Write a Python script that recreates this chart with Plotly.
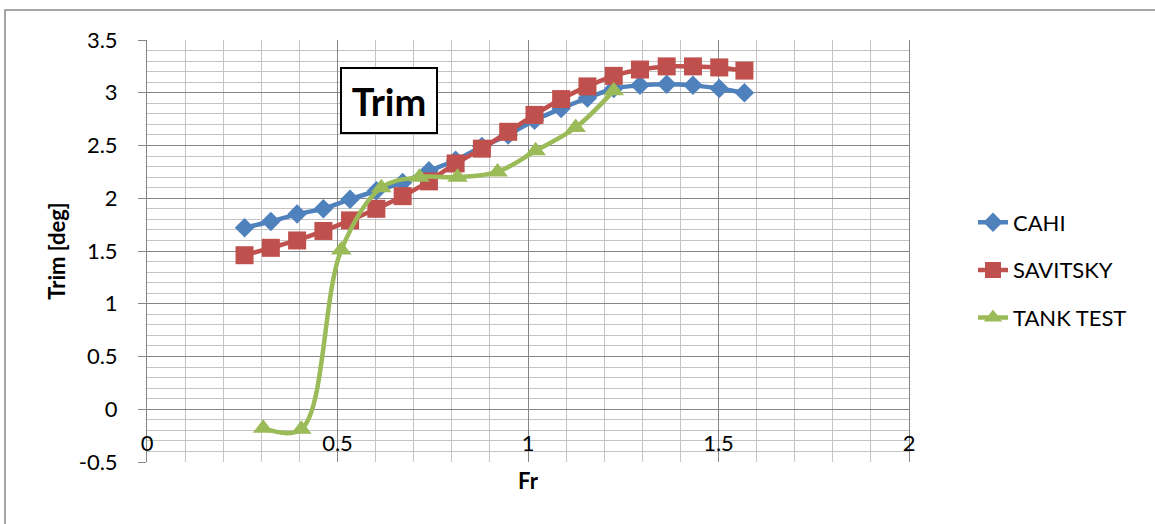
import plotly.graph_objects as go

# Froude numbers
fr_cahi = [0.256, 0.325, 0.394, 0.463, 0.533, 0.602, 0.671, 0.740, 0.810, 0.879,
           0.948, 1.017, 1.087, 1.156, 1.225, 1.294, 1.364, 1.433, 1.502, 1.568]
trim_cahi = [1.72, 1.78, 1.85, 1.90, 1.99, 2.07, 2.15, 2.26, 2.36, 2.49,
             2.60, 2.74, 2.85, 2.95, 3.04, 3.07, 3.08, 3.07, 3.04, 3.00]

fr_sav = fr_cahi
trim_sav = [1.46, 1.53, 1.60, 1.69, 1.79, 1.90, 2.02, 2.16, 2.33, 2.47,
            2.63, 2.79, 2.94, 3.06, 3.16, 3.22, 3.25, 3.25, 3.24, 3.21]

fr_tank = [0.305, 0.405, 0.510, 0.615, 0.715, 0.815, 0.920, 1.020, 1.125, 1.225]
trim_tank = [-0.18, -0.19, 1.51, 2.10, 2.20, 2.20, 2.25, 2.45, 2.67, 3.02]

x_ticks = [0, 0.5, 1, 1.5, 2]
x_tick_labels = ["0", "0.5", "1", "1.5", "2"]
y_ticks = [-0.5, 0, 0.5, 1, 1.5, 2, 2.5, 3, 3.5]
y_tick_labels = ["-0.5", "0", "0.5", "1", "1.5", "2", "2.5", "3", "3.5"]

BLUE = "#4F81BD"
RED = "#C0504D"
GREEN = "#9BBB59"
FONT = "Lato"

fig = go.Figure()
fig.add_trace(go.Scatter(x=fr_cahi, y=trim_cahi, name="CAHI", mode="lines+markers",
                         line=dict(color=BLUE, width=4.5, shape="spline", smoothing=0.6),
                         marker=dict(symbol="diamond", size=15, color=BLUE),
                         legendgroup="a"))
fig.add_trace(go.Scatter(x=fr_sav, y=trim_sav, name="SAVITSKY", mode="lines+markers",
                         line=dict(color=RED, width=4.5, shape="spline", smoothing=0.6),
                         marker=dict(symbol="square", size=18, color=RED),
                         legendgroup="b"))
fig.add_trace(go.Scatter(x=fr_tank, y=trim_tank, name="TANK TEST", mode="lines+markers",
                         line=dict(color=GREEN, width=4.5, shape="spline", smoothing=1),
                         marker=dict(symbol="triangle-up", size=18, color=GREEN),
                         legendgroup="c"))

L, R, T, B = 147, 246, 40, 62
W, H = 1155, 524
pw = W - L - R
ph = H - T - B

fig.update_layout(
    width=W, height=H,
    margin=dict(l=L, r=R, t=T, b=B),
    paper_bgcolor="white", plot_bgcolor="white",
    font=dict(family=FONT, size=22, color="black"),
    showlegend=True,
    legend=dict(x=(973 - L) / pw, y=(H - B - 270) / ph, xanchor="left", yanchor="middle",
                font=dict(family=FONT, size=22, color="black"),
                tracegroupgap=16, bgcolor="rgba(0,0,0,0)"),
    xaxis=dict(range=[0, 2], tickvals=x_ticks, ticktext=x_tick_labels,
               showgrid=True, gridcolor="#868686", gridwidth=1,
               minor=dict(dtick=0.1, showgrid=True, gridcolor="#C4C4C4", gridwidth=1),
               zeroline=False, showline=False, ticks="",
               anchor="free", position=(H - B - 428) / ph,
               title=dict(text="<b>Fr</b>", font=dict(family=FONT, size=22), standoff=18),
               tickfont=dict(family=FONT, size=22)),
    xaxis2=dict(range=[0, 2], overlaying="x", showgrid=False, showticklabels=False,
                zeroline=False, showline=True, linecolor="#868686", mirror=True, ticks=""),
    yaxis=dict(range=[-0.5, 3.5], tickvals=y_ticks, ticktext=y_tick_labels,
               showgrid=True, gridcolor="#868686", gridwidth=1,
               minor=dict(dtick=0.1, showgrid=True, gridcolor="#C4C4C4", gridwidth=1),
               zeroline=False, showline=True, linecolor="#868686", mirror=True,
               ticks="outside", ticklen=8, tickcolor="#868686", ticklabelstandoff=16,
               title=dict(text="<b>Trim [deg]</b>", font=dict(family=FONT, size=22), standoff=7),
               tickfont=dict(family=FONT, size=22)),
)

# title box
fig.add_annotation(text="<b>Trim</b>", xref="paper", yref="paper",
                   x=(389 - L) / pw, y=(H - B - 100) / ph, showarrow=False,
                   xanchor="center", yanchor="middle",
                   font=dict(family=FONT, size=38, color="black"),
                   width=88, height=57, borderpad=3,
                   bordercolor="black", borderwidth=2, bgcolor="white")

# outer chart border
fig.add_shape(type="rect", xref="paper", yref="paper",
              x0=(5 - L) / pw, x1=(1170 - L) / pw,
              y0=(H - B - 540) / ph, y1=(H - B - 10) / ph,
              line=dict(color="#898989", width=1.5), layer="below")

fig.write_html("out.html", config={"displayModeBar": False},
               post_script="document.body.style.margin='0';document.body.style.overflow='hidden';")
